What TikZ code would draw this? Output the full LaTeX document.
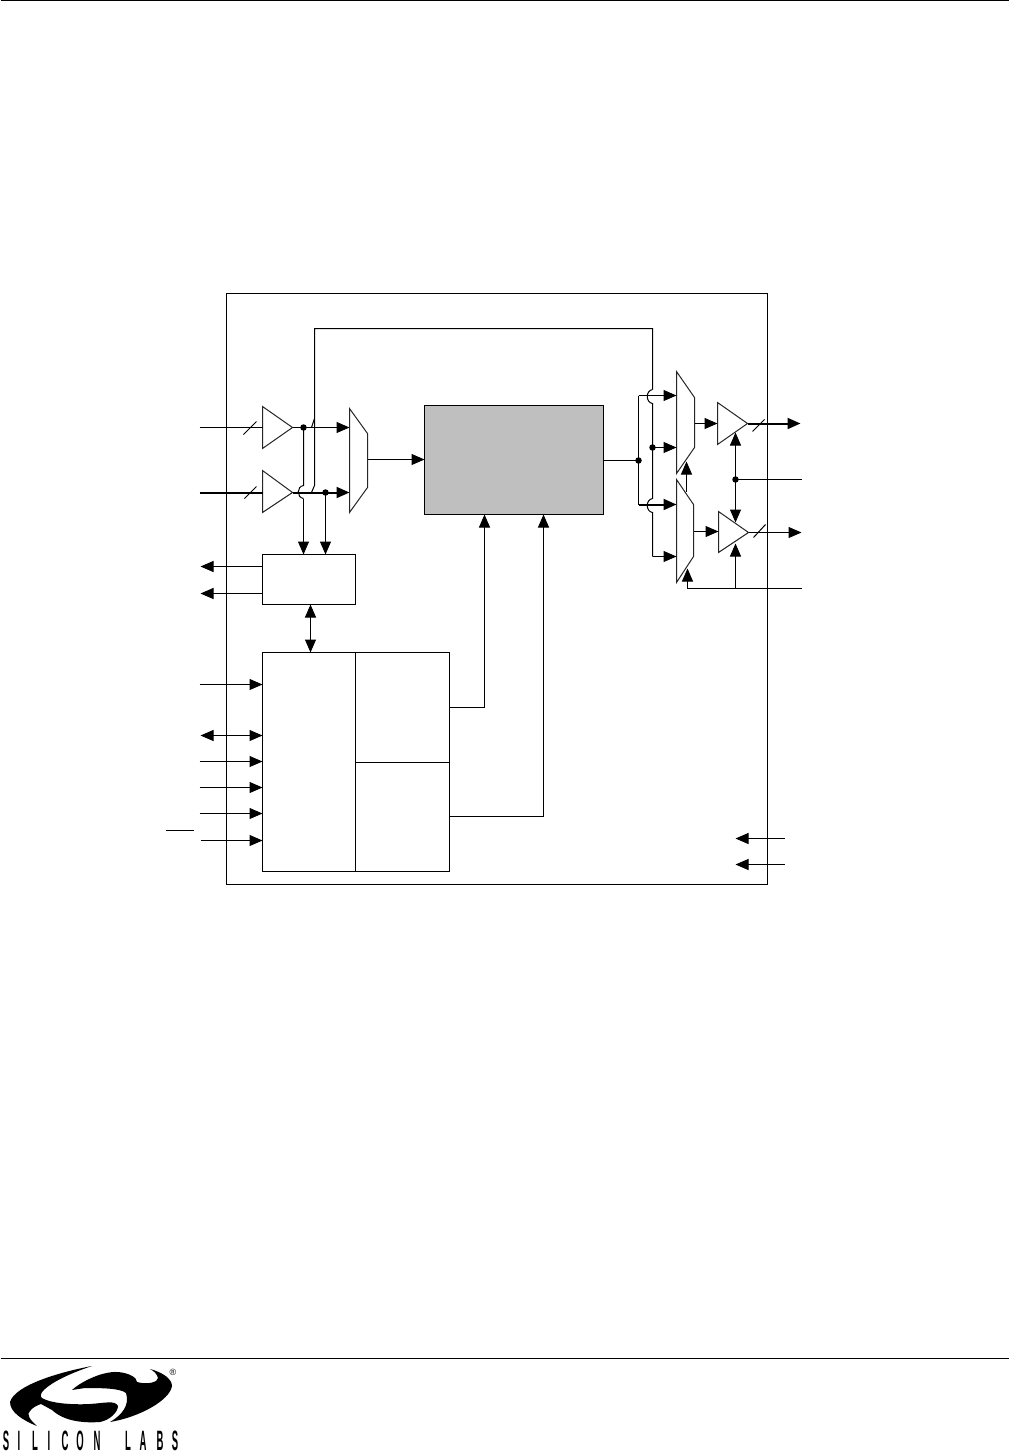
\documentclass[tikz,border=0pt]{standalone}
\usepackage{fontspec}
\setmainfont{Liberation Sans}
\usetikzlibrary{arrows.meta}
\tikzset{
  wire/.style={draw=black,line width=1pt},
  bus/.style={draw=black,line width=2pt},
  arr/.style={wire,-{Triangle[length=13pt,width=11pt]}},
  barr/.style={bus,-{Triangle[length=13pt,width=11pt]}},
  darr/.style={wire,{Triangle[length=13pt,width=11pt]}-{Triangle[length=13pt,width=11pt]}},
  block/.style={draw=black,line width=1pt,fill=white,inner sep=0pt,outer sep=0pt},
  shapeline/.style={draw=black!85,line width=1pt,fill=white,line join=miter},
  dotmark/.style={circle,fill=black,inner sep=0pt,minimum size=6.5pt},
  logotext/.style={inner sep=0pt,anchor=base}
}
\newcommand{\logochar}[1]{\scalebox{0.34}[1]{\fontsize{28}{28}\selectfont\bfseries #1}}
\begin{document}
\begin{tikzpicture}[x=1pt,y=-1pt]
\useasboundingbox (0,0) rectangle (1009,1451);
\fill[white] (0,0) rectangle (1009,1451);
\begin{scope}[shift={(0.5,0.5)}]
% page rules
\coordinate (tl) at (0,0); \coordinate (tr) at (1009,0);
\coordinate (bl) at (0,1358); \coordinate (br) at (1009,1358);
\draw[wire] (tl)--(tr);
\draw[wire] (bl)--(br);
% frame
\node[block,fill=none,minimum width=541pt,minimum height=591pt,anchor=north west] (frame) at (226,293) {};
% blocks
\node[block,fill=black!25,minimum width=179pt,minimum height=109pt,anchor=north west] (core) at (424,405) {};
\node[block,minimum width=93pt,minimum height=50pt,anchor=north west] (ctl) at (262,554) {};
\node[block,minimum width=93pt,minimum height=219pt,anchor=north west] (bigl) at (262,652) {};
\node[block,minimum width=94pt,minimum height=110pt,anchor=north west] (bigt) at (355,652) {};
\node[block,minimum width=94pt,minimum height=109pt,anchor=north west] (bigb) at (355,762) {};
% input buffers
\draw[shapeline] (262,406)--(292,427)--(262,448)--cycle;
\draw[shapeline] (262,470)--(292,492)--(262,512)--cycle;
% input mux
\draw[shapeline] (349,408)--(367,433)--(367,487)--(349,512)--cycle;
% output muxes
\draw[shapeline] (676,371)--(694,397)--(694,447)--(676,473)--cycle;
\draw[shapeline] (676,479)--(693,504)--(693,556)--(676,582)--cycle;
% output buffers
\draw[shapeline] (717,402)--(747,423)--(717,444)--cycle;
\draw[shapeline] (718,511)--(748,532)--(718,552)--cycle;
% named points, left
\coordinate (inA) at (199,427); \coordinate (bufAin) at (262,427); \coordinate (bufAout) at (292,427);
\coordinate (inB) at (199,492); \coordinate (bufBin) at (262,492); \coordinate (bufBout) at (292,492);
\coordinate (muxAa) at (349,427); \coordinate (muxAb) at (349,492);
\coordinate (muxAout) at (367,459);
\node[dotmark] (jA) at (303,427) {};
\node[dotmark] (jB) at (325,492) {};
\draw[wire] (inA)--(bufAin);
\draw[bus] (inB)--(bufBin);
\draw[wire] (243,434)--(256,421);
\draw[wire] (244,498)--(256,486);
\draw[arr] (bufAout)--(muxAa);
\draw[barr] (bufBout)--(muxAb);
\draw[arr] (muxAout)--(muxAout-|core.west);
% split lines with jump
\draw[wire] (jA.center)--(303,485) .. controls (296,486) and (296,497) .. (303,498);
\draw[arr] (303,498)--(303,554);
\draw[arr] (jB.center)--(jB.center|-ctl.north);
% feedback
\coordinate (fbA) at (311,492); \coordinate (fbB) at (314,485);
\coordinate (fbC) at (314,328); \coordinate (fbD) at (652,328);
\coordinate (fbE) at (652,389);
\draw[wire] (fbA)--(fbB)--(fbC)--(fbD)--(fbE);
\draw[wire] (314,418)--(311,427);
% jump + lower tap on right
\coordinate (tapA) at (652,447);
\coordinate (tapB) at (652,556);
\draw[wire] (fbE) .. controls (645,390) and (645,402) .. (652,403)--(652,498) .. controls (645,499) and (645,511) .. (652,512)--(tapB);
\node[dotmark] (jT) at (tapA) {};
\node[dotmark] (jC) at (638,460) {};
\draw[wire] (core.east|-jC)--(jC.center);
\draw[wire] (638,395)--(638,504);
\draw[arr] (638,395)--(676,395);
\draw[arr] (jT.center)--(676,447);
\draw[barr] (638,504)--(676,504);
\draw[arr] (tapB)--(676,556);
% mux control
\coordinate (mcA) at (686,491);
\coordinate (mcB) at (686,461);
\draw[arr] (mcA)--(mcB);
\coordinate (enA) at (801,588); \coordinate (enB) at (687,588); \coordinate (enC) at (687,568);
\draw[wire] (enA)--(enB); \draw[arr] (enB)--(enC);
% mux to buffers
\draw[arr] (694,423)--(717,423);
\draw[arr] (693,531)--(718,531);
% outputs
\coordinate (outA) at (800,423); \coordinate (outB) at (801,532);
\draw[barr] (747,423)--(outA);
\draw[arr] (748,532)--(outB);
\draw[wire] (752,431)--(764,419);
\draw[wire] (753,537)--(765,524);
% output enables
\node[dotmark] (jE) at (735,479) {};
\draw[wire] (jE.center)--(801,479);
\draw[arr] (jE.center)--(735,432);
\draw[arr] (jE.center)--(735,522);
\draw[arr] (735,588)--(735,543);
% status outputs
\draw[arr] (ctl.west|-0,566)--(200,566);
\draw[arr] (ctl.west|-0,593)--(200,593);
\draw[darr] (310,604)--(310,652);
% control inputs
\coordinate (pA) at (199,684); \coordinate (pB) at (200,735); \coordinate (pC) at (199,761);
\coordinate (pD) at (199,787); \coordinate (pE) at (199,813); \coordinate (pF) at (200,840);
\draw[arr] (pA)--(bigl.west|-pA);
\draw[darr] (pB)--(bigl.west|-pB);
\draw[arr] (pC)--(bigl.west|-pC);
\draw[arr] (pD)--(bigl.west|-pD);
\draw[arr] (pE)--(bigl.west|-pE);
\draw[arr] (pF)--(bigl.west|-pF);
\coordinate (ovA) at (165,830); \coordinate (ovB) at (193,830);
\draw[wire] (ovA)--(ovB);
% clock paths
\coordinate (ckA) at (449,707); \coordinate (ckB) at (484,707);
\coordinate (ckC) at (449,816); \coordinate (ckD) at (543,816);
\draw[wire] (ckA)--(ckB); \draw[arr] (ckB)--(ckB|-core.south);
\draw[wire] (ckC)--(ckD); \draw[arr] (ckD)--(ckD|-core.south);
% supply
\coordinate (vA) at (784,838); \coordinate (vB) at (735,838);
\coordinate (vC) at (784,864); \coordinate (vD) at (735,864);
\draw[arr] (vA)--(vB);
\draw[arr] (vC)--(vD);
\end{scope}
% logo
\fill[black] (92,1366) .. controls (60,1372) and (15,1385) .. (10,1402)
  .. controls (10,1412) and (22,1420) .. (37,1426)
  .. controls (30,1420) and (26,1414) .. (30,1411)
  .. controls (33,1407) and (38,1405) .. (41,1404)
  -- (52,1410)
  .. controls (65,1422) and (85,1423) .. (100,1422)
  .. controls (110,1420) and (118,1412) .. (118,1406)
  .. controls (115,1400) and (105,1403) .. (90,1404)
  .. controls (70,1405) and (50,1403) .. (42,1398)
  .. controls (36,1394) and (50,1380) .. (92,1366) -- cycle;
\fill[black] (150,1369) .. controls (165,1373) and (172,1380) .. (172,1386)
  .. controls (170,1400) and (140,1417) .. (110,1422)
  .. controls (122,1415) and (130,1405) .. (126,1393)
  .. controls (120,1388) and (100,1388) .. (85,1388)
  -- (72,1390)
  .. controls (78,1384) and (100,1371) .. (118,1372)
  .. controls (130,1373) and (137,1378) .. (137,1382)
  .. controls (148,1385) and (158,1382) .. (158,1378)
  .. controls (157,1374) and (154,1371) .. (150,1369) -- cycle;
\node[font=\fontsize{9}{9}\selectfont,inner sep=0pt] (reg) at (173,1372) {®};
\node[logotext] (lS1) at (6,1450) {\logochar{S}};
\node[logotext] (lI1) at (19,1450) {\logochar{I}};
\node[logotext] (lL1) at (35,1450) {\logochar{L}};
\node[logotext] (lI2) at (49,1450) {\logochar{I}};
\node[logotext] (lC) at (65,1450) {\logochar{C}};
\node[logotext] (lO) at (80,1450) {\logochar{O}};
\node[logotext] (lN) at (97,1450) {\logochar{N}};
\node[logotext] (lL2) at (128,1450) {\logochar{L}};
\node[logotext] (lA) at (143,1450) {\logochar{A}};
\node[logotext] (lB) at (160,1450) {\logochar{B}};
\node[logotext] (lS2) at (175,1450) {\logochar{S}};
\end{tikzpicture}
\end{document}
